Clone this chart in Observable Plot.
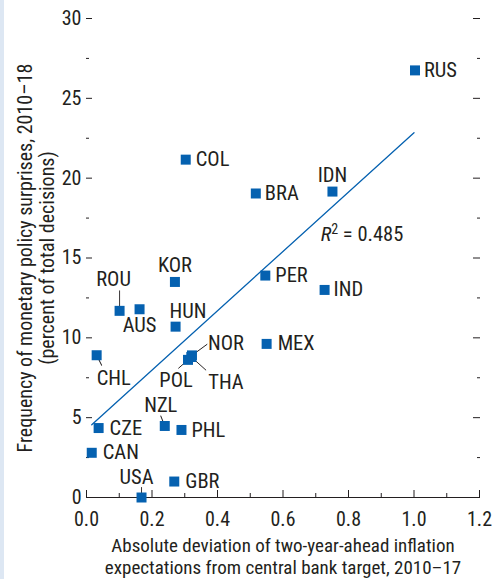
<!DOCTYPE html>
<html><head><meta charset="utf-8">
<script src="https://cdn.jsdelivr.net/npm/d3@7"></script>
<script src="https://cdn.jsdelivr.net/npm/@observablehq/plot@0.6"></script>
<style>
html,body{margin:0;padding:0;background:#fff;}
#wrap{position:relative;width:493px;height:579px;overflow:hidden;}
#strip{position:absolute;left:0;top:0;width:4px;height:579px;background:#dde7f3;}
</style></head><body><div id="wrap"><div id="strip"></div></div>
<script>
// ---- data ----
const countries = ["RUS","COL","BRA","IDN","PER","IND","KOR","ROU","AUS","HUN","NOR","THA","POL","MEX","CHL","CZE","NZL","PHL","CAN","USA","GBR"];
const xValues   = [1.003,0.303,0.517,0.751,0.546,0.727,0.270,0.101,0.162,0.272,0.322,0.320,0.310,0.550,0.031,0.037,0.239,0.290,0.016,0.168,0.268];
const yValues   = [26.75,21.16,19.04,19.16,13.90,13.00,13.50,11.69,11.79,10.70,8.90,8.80,8.62,9.62,8.91,4.35,4.48,4.23,2.80,0.00,1.00];
const fitX = [0.016, 1.0];
const fitY = [4.55, 22.85];
const r2Label = "R2 = 0.485";
const r2X = 0.715, r2Y = 16.5;
const xTicks = [0,0.2,0.4,0.6,0.8,1.0,1.2];
const xMinorTicks = [0.1,0.3,0.5,0.7,0.9,1.1];
const yTicks = [0,5,10,15,20,25,30];
const yMinorTicks = [2.5,7.5,12.5,17.5,22.5,27.5];
const xTitle = ["Absolute deviation of two-year-ahead inflation","expectations from central bank target, 2010–17"];
const yTitle = ["Frequency of monetary policy surprises, 2010–18","(percent of total decisions)"];

// ---- layout / style (pixel offsets of labels and leader lines) ----
const labelLayout = {
  RUS:{a:"start",dx:9,dy:0}, COL:{a:"start",dx:10,dy:0}, BRA:{a:"start",dx:9,dy:0},
  IDN:{a:"middle",dx:0,dy:-16.5}, PER:{a:"start",dx:10,dy:0}, IND:{a:"start",dx:9,dy:0},
  KOR:{a:"middle",dx:0,dy:-17}, ROU:{a:"middle",dx:-6,dy:-31,lead:[0,-20]},
  AUS:{a:"middle",dx:0,dy:16}, HUN:{a:"start",dx:-6,dy:-15},
  NOR:{a:"start",dx:16,dy:-12,lead:[15,-11]}, THA:{a:"start",dx:17,dy:25,lead:[14.5,13]},
  POL:{a:"middle",dx:-12,dy:21,lead:[-9.4,8.3]}, MEX:{a:"start",dx:11,dy:0},
  CHL:{a:"start",dx:0,dy:23.5,lead:[5,10]}, CZE:{a:"start",dx:11,dy:0},
  NZL:{a:"middle",dx:-4,dy:-21,lead:[-4,-10]}, PHL:{a:"start",dx:10,dy:0},
  CAN:{a:"start",dx:11,dy:0}, USA:{a:"middle",dx:-5,dy:-20,lead:[0,-10]},
  GBR:{a:"start",dx:11,dy:0}
};
const blue = "#0561b0";
const ink = "#231f20";
const font = "'Liberation Sans Narrow','Arial Narrow','Roboto Condensed','DejaVu Sans Condensed',sans-serif";
const fs = 20.5;
const tfs = 20;

const pts = countries.map((c,i)=>({c, x:xValues[i], y:yValues[i]}));
const fit = fitX.map((x,i)=>({x, y:fitY[i]}));
const lineShape = {draw(ctx, l){ ctx.moveTo(0,0); ctx.lineTo(0,-l); }};

const leaderMarks = pts.filter(p=>labelLayout[p.c].lead).map(p=>{
  const [ex,ey] = labelLayout[p.c].lead;
  return Plot.vector([p], {x:"x", y:"y", length: Math.hypot(ex,ey), rotate: Math.atan2(ex,-ey)*180/Math.PI,
    anchor:"start", shape: lineShape, stroke: ink, strokeWidth: 0.9});
});
const labelMarks = pts.map(p=>{
  const L = labelLayout[p.c];
  return Plot.text([p], {x:"x", y:"y", text:"c", textAnchor:L.a, dx:L.dx, dy:L.dy, fontSize:fs, fill:ink});
});

const chart = Plot.plot({
  width: 493, height: 579,
  marginLeft: 86, marginRight: 14, marginTop: 18, marginBottom: 82,
  style: {fontFamily: font, color: ink, background: "transparent"},
  x: {domain: [0, 1.2]},
  y: {domain: [0, 30]},
  marks: [
    Plot.ruleY([0], {stroke: ink, strokeWidth: 1.2}),
    // x ticks (inward)
    Plot.axisX(xTicks, {tickSize: -7, fill: "none", label: null, stroke: ink}),
    Plot.axisX(xMinorTicks, {tickSize: -4, fill: "none", label: null, stroke: ink}),
    Plot.axisX(xTicks, {tickSize: 0, tickPadding: 22, lineAnchor: "middle", tickFormat: d3.format(".1f"), fontSize: 20, label: null, fill: ink}),
    // y ticks (inward), left and right
    Plot.axisY(yTicks, {anchor: "left", tickSize: -6, fill: "none", label: null, stroke: ink}),
    Plot.axisY(yMinorTicks, {anchor: "left", tickSize: -3, fill: "none", label: null, stroke: ink}),
    Plot.axisY(yTicks, {anchor: "right", tickSize: -7, fill: "none", label: null, stroke: ink}),
    Plot.axisY(yMinorTicks, {anchor: "right", tickSize: -3, fill: "none", label: null, stroke: ink}),
    Plot.axisY(yTicks, {anchor: "left", tickSize: 0, tickPadding: 5, fontSize: 20, label: null, fill: ink}),
    // axis titles
    Plot.text([xTitle.join("\n")], {frameAnchor: "bottom", dy: 58.5, lineAnchor: "middle", lineHeight: 21.4/19, textAnchor: "middle", text: d=>d, fontSize: 19, fill: ink}),
    Plot.text([yTitle[0]], {frameAnchor: "left", dx: -61, rotate: -90, lineAnchor: "middle", textAnchor: "middle", text: d=>d, fontSize: tfs, fill: ink}),
    Plot.text([yTitle[1]], {frameAnchor: "left", dx: -39, rotate: -90, lineAnchor: "middle", textAnchor: "middle", text: d=>d, fontSize: tfs, fill: ink}),
    // regression line
    Plot.line(fit, {x:"x", y:"y", stroke: blue, strokeWidth: 1.3}),
    Plot.text([{x:r2X, y:r2Y, t:r2Label}], {x:"x", y:"y", text:"t", textAnchor:"start", fontSize: fs, fill: ink}),
    ...leaderMarks,
    Plot.dot(pts, {x:"x", y:"y", symbol:"square", r: 5.64, fill: blue, stroke: "none"}),
    ...labelMarks
  ]
});
chart.style.position = "absolute";
chart.style.left = "0"; chart.style.top = "0";
document.getElementById("wrap").prepend(chart);

// superscript / italic for R²
chart.querySelectorAll("text").forEach(t=>{
  if (t.textContent === r2Label) {
    t.textContent = "";
    const ns = "http://www.w3.org/2000/svg";
    const a = document.createElementNS(ns, "tspan"); a.setAttribute("font-style","italic"); a.textContent = "R";
    const b = document.createElementNS(ns, "tspan"); b.setAttribute("dy","-7"); b.setAttribute("font-size","14"); b.textContent = "2";
    const c = document.createElementNS(ns, "tspan"); c.setAttribute("dy","7"); c.textContent = " = 0.485";
    t.append(a,b,c);
  }
});
</script></body></html>
